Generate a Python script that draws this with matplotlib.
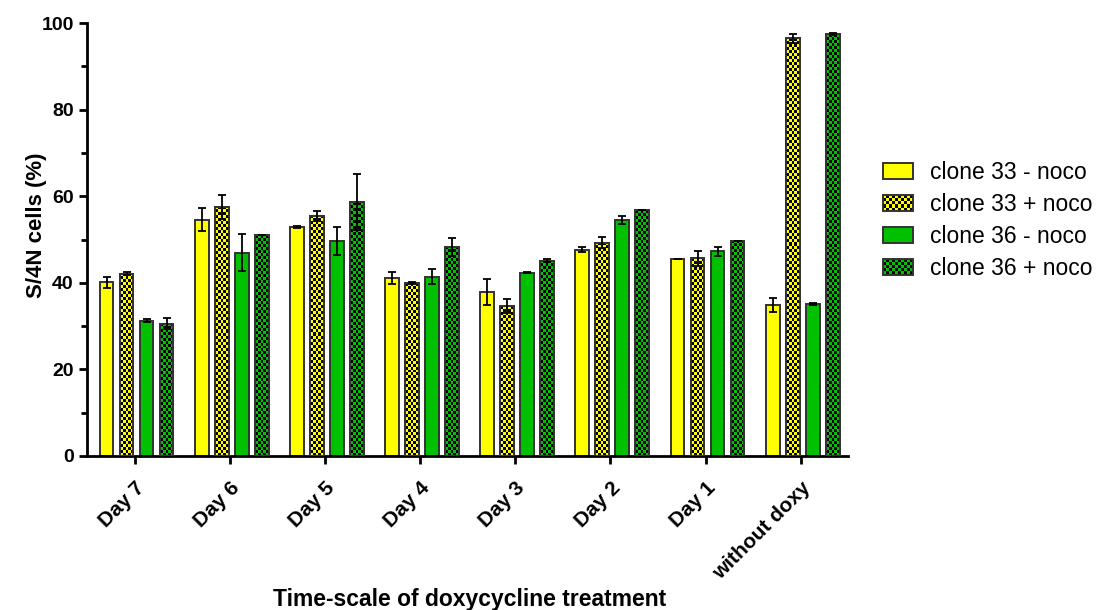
import matplotlib
matplotlib.use("Agg")
import matplotlib.pyplot as plt
import numpy as np
from matplotlib.colors import ListedColormap
from matplotlib.patches import Rectangle
from matplotlib.legend_handler import HandlerBase

plt.rcParams['font.family'] = ['Liberation Sans', 'DejaVu Sans']

categories = ["Day 7", "Day 6", "Day 5", "Day 4", "Day 3", "Day 2", "Day 1", "without doxy"]
series_names = ["clone 33 - noco", "clone 33 + noco", "clone 36 - noco", "clone 36 + noco"]

c33_minus = [40.1, 54.6, 52.9, 41.1, 37.8, 47.7, 45.4, 34.8]
c33_plus = [42.1, 57.6, 55.5, 39.9, 34.6, 49.3, 45.7, 96.5]
c36_minus = [31.3, 47.0, 49.7, 41.4, 42.3, 54.5, 47.3, 35.1]
c36_plus = [30.6, 51.0, 58.6, 48.3, 45.1, 56.8, 49.7, 97.5]

c33_minus_err = [1.3, 2.6, 0.2, 1.3, 3.0, 0.5, 0.0, 1.6]
c33_plus_err = [0.3, 2.8, 1.1, 0.2, 1.6, 1.3, 1.7, 1.0]
c36_minus_err = [0.3, 4.3, 3.2, 1.7, 0.1, 1.0, 1.0, 0.3]
c36_plus_err = [1.3, 0.0, 6.5, 2.0, 0.3, 0.0, 0.0, 0.3]

YELLOW = "#ffff00"
GREEN = "#00c000"
EDGE = "#333333"

values = [c33_minus, c33_plus, c36_minus, c36_plus]
errors = [c33_minus_err, c33_plus_err, c36_minus_err, c36_plus_err]
colors = [YELLOW, YELLOW, GREEN, GREEN]
checked = [False, True, False, True]

fig = plt.figure(figsize=(11.09, 6.10), dpi=100)
ax = fig.add_axes([0.0785, 0.2525, 0.6865, 0.7095])

x = np.arange(len(categories))
step = 0.21
width = 0.145
shift = 0.02
offsets = [shift + (k - 1.5) * step for k in range(4)]

ax.set_xlim(-0.5, 7.5)
ax.set_ylim(0, 100)

# pixel size of the data units, used to size the checker cells
px_x = 0.6865 * 1109 / 8.0
px_y = 0.7095 * 610 / 100.0
cell = 3.0


def checker(nx, ny):
    ii, jj = np.meshgrid(np.arange(nx), np.arange(ny))
    return (ii + jj) % 2


for k in range(4):
    xs = x + offsets[k]
    bars = ax.bar(xs, values[k], width, color=colors[k], edgecolor=EDGE,
                  linewidth=1.4, zorder=2)
    if checked[k]:
        cmap = ListedColormap([colors[k], "black"])
        for b in bars:
            x0 = b.get_x()
            h = b.get_height()
            nx = max(1, int(round(width * px_x / cell)))
            ny = max(1, int(round(h * px_y / cell)))
            im = ax.imshow(checker(nx, ny), cmap=cmap, interpolation="nearest",
                           extent=(x0, x0 + width, 0, h), origin="lower",
                           aspect="auto", zorder=2.5)
            im.set_clip_path(b)
        ax.bar(xs, values[k], width, facecolor="none", edgecolor=EDGE,
               linewidth=1.4, zorder=3)
    ax.errorbar(xs, values[k], yerr=errors[k], fmt="none", ecolor="black",
                elinewidth=1.3, capsize=3, capthick=1.3, zorder=4)

ax.set_aspect("auto")
ax.set_xlim(-0.5, 7.5)
ax.set_ylim(0, 100)

for side in ["top", "right"]:
    ax.spines[side].set_visible(False)
for side in ["left", "bottom"]:
    ax.spines[side].set_linewidth(2)

ax.set_yticks(np.arange(0, 101, 20))
ax.set_yticks(np.arange(10, 100, 20), minor=True)
ax.tick_params(axis="y", which="major", length=6, width=2, labelsize=14)
ax.tick_params(axis="y", which="minor", length=4, width=2)
ax.tick_params(axis="x", length=6, width=2, labelsize=15, pad=10)
for lab in ax.get_yticklabels():
    lab.set_fontweight("bold")

ax.set_xticks(x)
ax.set_xticklabels(categories, rotation=45, ha="right", rotation_mode="anchor",
                   fontweight="bold")

ax.set_ylabel("S/4N cells (%)", fontsize=16, fontweight="bold")
ax.yaxis.set_label_coords(-0.053, 0.533)
ax.set_xlabel("Time-scale of doxycycline treatment", fontsize=16.5,
              fontweight="bold")
ax.xaxis.set_label_coords(0.503, -0.305)


class CheckerHandler(HandlerBase):
    def __init__(self, color):
        super().__init__()
        self.color = color

    def create_artists(self, legend, orig_handle, xdescent, ydescent,
                       width, height, fontsize, trans):
        arts = [Rectangle((-xdescent, -ydescent), width, height,
                          facecolor=self.color, edgecolor="none", transform=trans)]
        nx, ny = 10, 5
        dx, dy = width / nx, height / ny
        for i in range(nx):
            for j in range(ny):
                if (i + j) % 2:
                    arts.append(Rectangle((-xdescent + i * dx, -ydescent + j * dy),
                                          dx, dy, facecolor="black",
                                          edgecolor="none", transform=trans))
        arts.append(Rectangle((-xdescent, -ydescent), width, height,
                              facecolor="none", edgecolor=EDGE, lw=1.4,
                              transform=trans))
        return arts


handles = []
handler_map = {}
for k in range(4):
    r = Rectangle((0, 0), 1, 1, facecolor=colors[k], edgecolor=EDGE, lw=1.4)
    handles.append(r)
    if checked[k]:
        handler_map[r] = CheckerHandler(colors[k])

fig.legend(handles, series_names, handler_map=handler_map,
           loc="center left", bbox_to_anchor=(0.796, 0.639), frameon=False,
           fontsize=16.5, handlelength=1.31, handleheight=0.7, labelspacing=0.39,
           handletextpad=0.75, borderpad=0, borderaxespad=0)

fig.savefig("out.png", dpi=100)
